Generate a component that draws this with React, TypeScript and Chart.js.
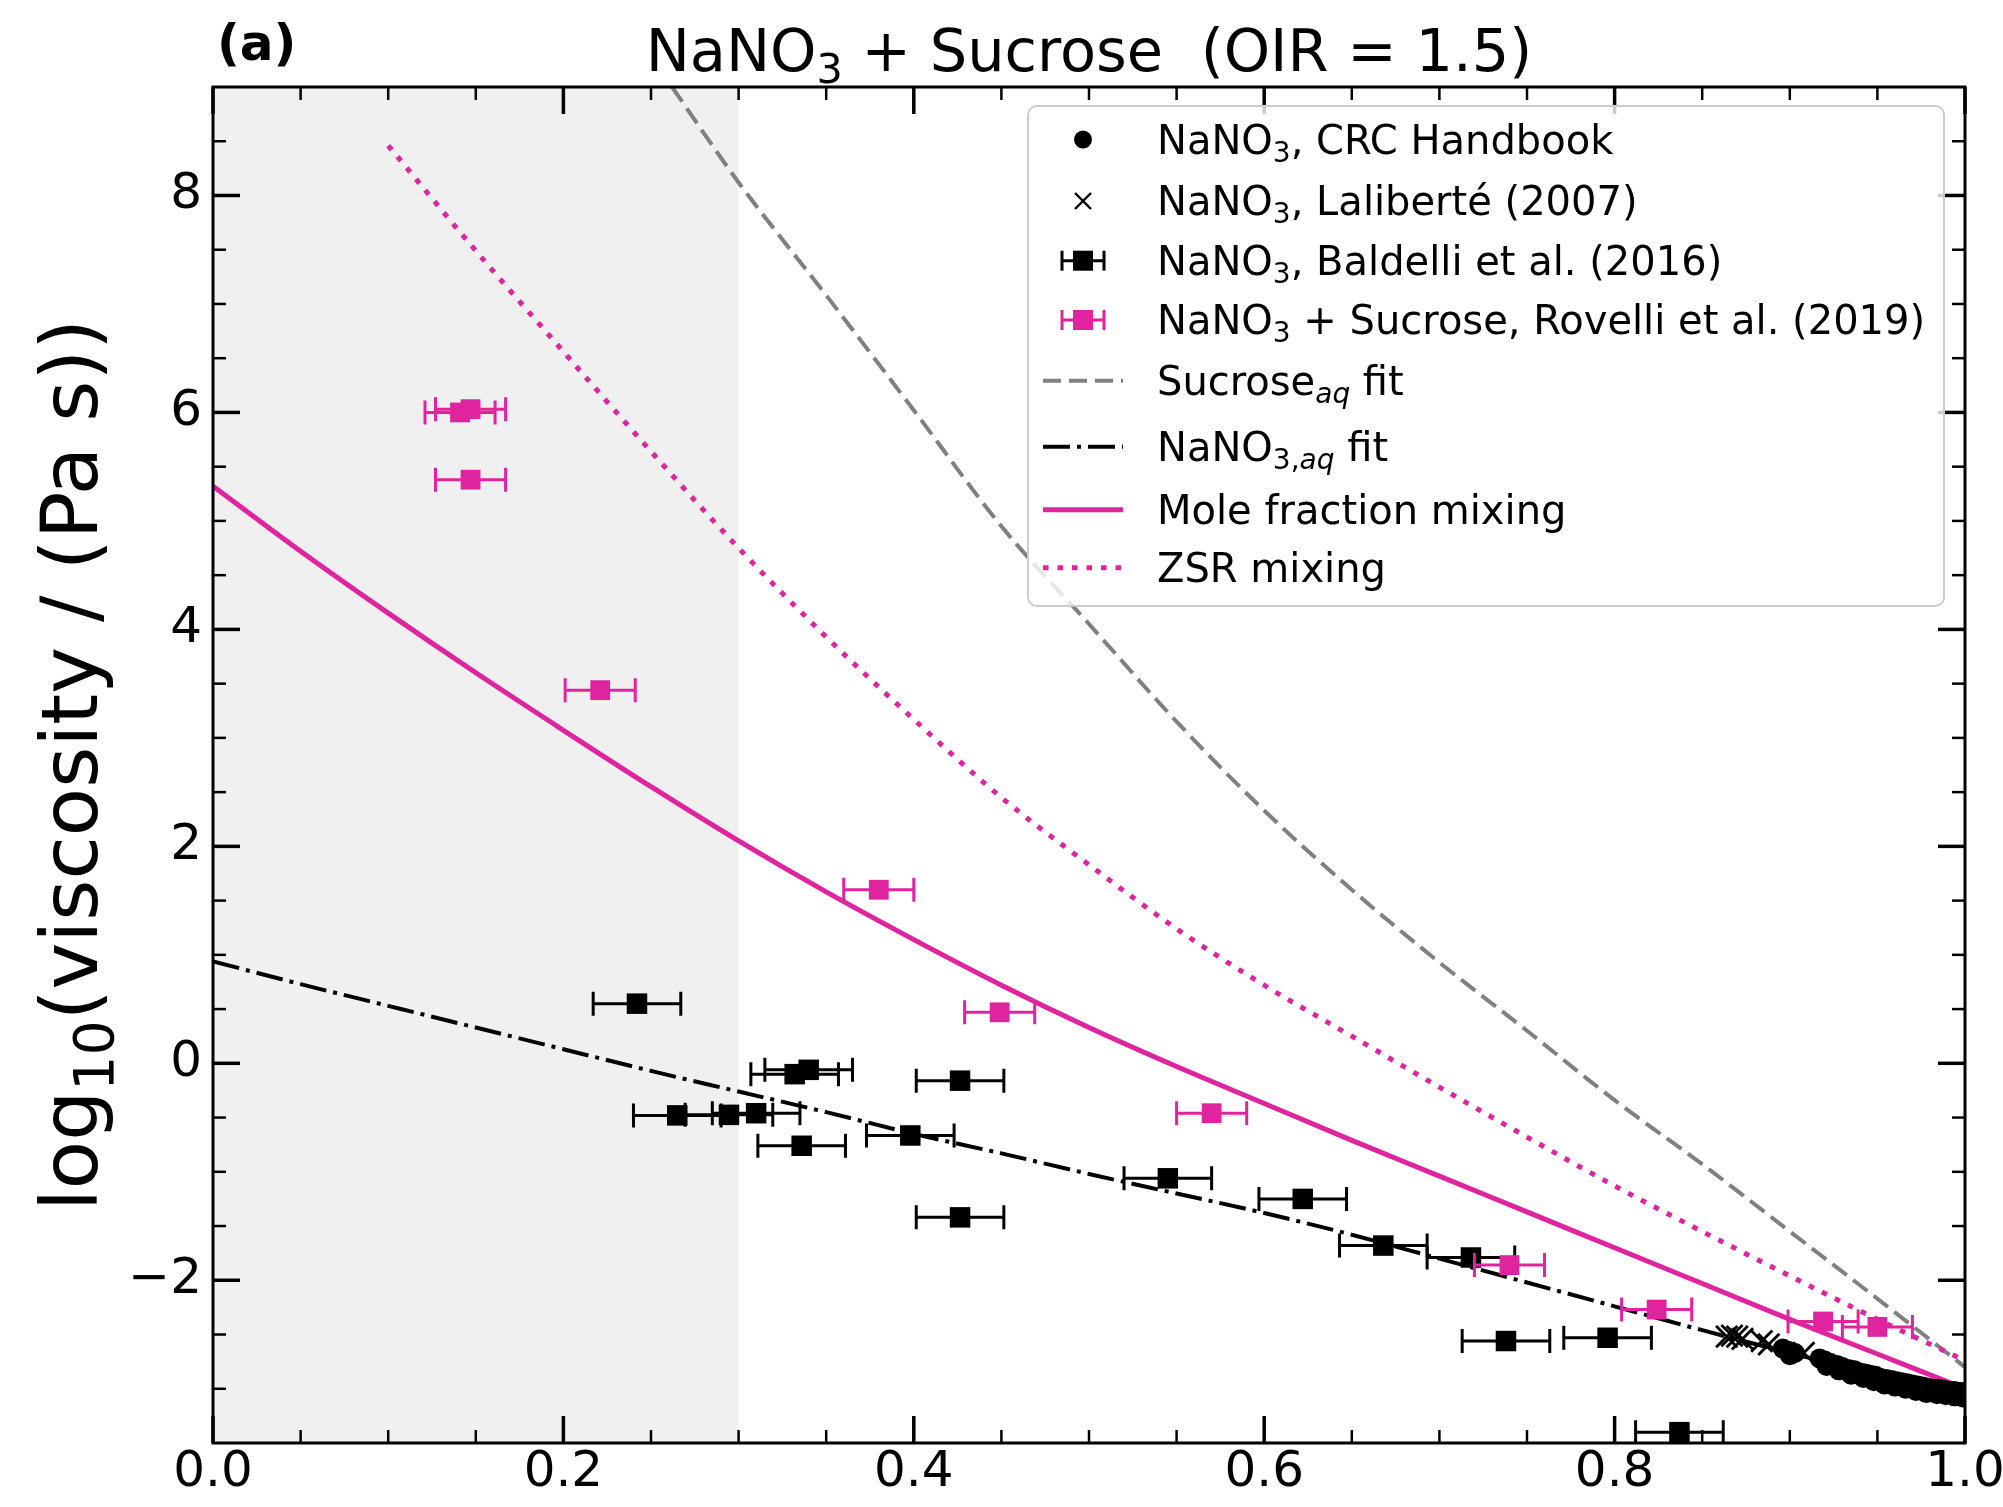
import React, { useEffect, useRef } from 'react';
import { Chart, registerables } from 'chart.js';

Chart.register(...registerables);

// ---------------- data ----------------
const shadeRange = [0, 0.3];

const xTickVals = [0, 0.2, 0.4, 0.6, 0.8, 1.0];
const xMinorVals = [0.05, 0.1, 0.15, 0.25, 0.3, 0.35, 0.45, 0.5, 0.55, 0.65, 0.7, 0.75, 0.85, 0.9, 0.95];
const yTickVals = [-2, 0, 2, 4, 6, 8];
const yMinorVals = [-3, -2.5, -1.5, -1, -0.5, 0.5, 1, 1.5, 2.5, 3, 3.5, 4.5, 5, 5.5, 6.5, 7, 7.5, 8.5];

// NaNO3, CRC Handbook
const crcX = [0.896, 0.899, 0.903, 0.917, 0.920, 0.923, 0.927, 0.930, 0.934, 0.937, 0.940, 0.943, 0.946, 0.949, 0.952, 0.955, 0.958, 0.961, 0.964, 0.967, 0.970, 0.973, 0.976, 0.979, 0.982, 0.985, 0.988, 0.991, 0.994, 0.997, 1.000,
  0.900, 0.921, 0.928, 0.935, 0.942, 0.948, 0.954, 0.960, 0.966, 0.972, 0.978, 0.984, 0.989, 0.994, 0.999];
const crcY = [-2.63, -2.65, -2.67, -2.72, -2.74, -2.76, -2.78, -2.80, -2.82, -2.83, -2.85, -2.86, -2.87, -2.88, -2.90, -2.91, -2.92, -2.93, -2.94, -2.95, -2.96, -2.97, -2.98, -2.99, -3.00, -3.00, -3.01, -3.02, -3.02, -3.03, -3.03,
  -2.69, -2.79, -2.83, -2.87, -2.90, -2.93, -2.96, -2.98, -3.00, -3.02, -3.04, -3.05, -3.06, -3.07, -3.08];

// NaNO3, Laliberté (2007)
const lalX = [0.864, 0.867, 0.870, 0.873, 0.884, 0.888, 0.908];
const lalY = [-2.52, -2.51, -2.52, -2.54, -2.56, -2.59, -2.67];

// NaNO3, Baldelli et al. (2016)
const balX = [0.242, 0.265, 0.2945, 0.310, 0.332, 0.340, 0.336, 0.398, 0.4264, 0.4264, 0.545, 0.622, 0.668, 0.718, 0.738, 0.796, 0.837];
const balY = [0.55, -0.48, -0.475, -0.46, -0.10, -0.06, -0.76, -0.665, -0.16, -1.42, -1.06, -1.25, -1.68, -1.79, -2.56, -2.53, -3.40];
const balXErr = [0.025, 0.025, 0.025, 0.025, 0.025, 0.025, 0.025, 0.025, 0.025, 0.025, 0.025, 0.025, 0.025, 0.025, 0.025, 0.025, 0.025];

// NaNO3 + Sucrose, Rovelli et al. (2019)
const rovX = [0.141, 0.147, 0.147, 0.221, 0.380, 0.449, 0.570, 0.740, 0.824, 0.919, 0.950];
const rovY = [6.00, 6.03, 5.38, 3.44, 1.60, 0.47, -0.46, -1.86, -2.27, -2.38, -2.43];
const rovXErr = [0.02, 0.02, 0.02, 0.02, 0.02, 0.02, 0.02, 0.02, 0.02, 0.02, 0.02];

// Sucrose_aq fit
const sucX = [0.262, 0.30, 0.35, 0.40, 0.45, 0.50, 0.55, 0.60, 0.65, 0.70, 0.75, 0.80, 0.85, 0.90, 0.95, 1.00];
const sucY = [9.0, 8.12, 7.08, 6.02, 4.95, 4.05, 3.15, 2.33, 1.60, 0.93, 0.30, -0.34, -0.93, -1.55, -2.17, -2.80];

// NaNO3,aq fit
const nanX = [0, 0.05, 0.10, 0.15, 0.20, 0.25, 0.30, 0.35, 0.40, 0.45, 0.50, 0.55, 0.60, 0.65, 0.70, 0.75, 0.80, 0.85, 0.90, 0.95, 1.00];
const nanY = [0.94, 0.73, 0.53, 0.33, 0.13, -0.07, -0.26, -0.45, -0.65, -0.83, -1.02, -1.20, -1.38, -1.58, -1.80, -2.02, -2.24, -2.46, -2.67, -2.87, -3.05];

// Mole fraction mixing
const molX = [0, 0.05, 0.10, 0.15, 0.20, 0.25, 0.30, 0.35, 0.40, 0.45, 0.50, 0.55, 0.60, 0.65, 0.70, 0.75, 0.80, 0.85, 0.90, 0.95, 1.00];
const molY = [5.32, 4.72, 4.15, 3.60, 3.07, 2.55, 2.05, 1.58, 1.14, 0.72, 0.33, -0.03, -0.37, -0.71, -1.04, -1.37, -1.70, -2.03, -2.36, -2.68, -3.00];

// ZSR mixing
const zsrX = [0.10, 0.15, 0.20, 0.25, 0.30, 0.35, 0.40, 0.45, 0.50, 0.55, 0.60, 0.65, 0.70, 0.75, 0.80, 0.85, 0.90, 0.95, 1.00];
const zsrY = [8.46, 7.49, 6.56, 5.64, 4.75, 3.93, 3.17, 2.45, 1.83, 1.24, 0.72, 0.25, -0.22, -0.68, -1.13, -1.55, -1.96, -2.36, -2.74];

// ---------------- styles ----------------
const FONT = '"DejaVu Sans", "Noto Sans", sans-serif';
const MAGENTA = '#e0249f';
const GRAY = '#808080';
const DASH_GRAY = [18, 8];
const DASH_DOT = [27, 7, 4, 7];
const DOTS = [5.5, 9];

type Seg = { t: string; sub?: boolean; italic?: boolean; bold?: boolean };

const pts = (xs: number[], ys: number[]) => xs.map((x, i) => ({ x, y: ys[i] }));

function segFont(s: Seg, size: number) {
  const px = s.sub ? size * 0.7 : size;
  return `${s.italic ? 'italic ' : ''}${s.bold ? 'bold ' : ''}${px}px ${FONT}`;
}
function richWidth(ctx: CanvasRenderingContext2D, segs: Seg[], size: number) {
  let w = 0;
  segs.forEach((s) => {
    ctx.font = segFont(s, size);
    w += ctx.measureText(s.t).width;
  });
  return w;
}
function drawRich(ctx: CanvasRenderingContext2D, segs: Seg[], x: number, y: number, size: number) {
  let cx = x;
  ctx.textBaseline = 'alphabetic';
  ctx.textAlign = 'left';
  segs.forEach((s) => {
    ctx.font = segFont(s, size);
    ctx.fillText(s.t, cx, y + (s.sub ? size * 0.2 : 0));
    cx += ctx.measureText(s.t).width;
  });
}

const titleSegs: Seg[] = [{ t: 'NaNO' }, { t: '3', sub: true }, { t: ' + Sucrose  (OIR = 1.5)' }];
const ylabelSegs: Seg[] = [{ t: 'log' }, { t: '10', sub: true }, { t: '(viscosity / (Pa s))' }];

type LegendItem = { segs: Seg[]; kind: string; color: string; dash?: number[]; width?: number };
const legendItems: LegendItem[] = [
  { segs: [{ t: 'NaNO' }, { t: '3', sub: true }, { t: ', CRC Handbook' }], kind: 'circle', color: '#000' },
  { segs: [{ t: 'NaNO' }, { t: '3', sub: true }, { t: ', Laliberté (2007)' }], kind: 'cross', color: '#000' },
  { segs: [{ t: 'NaNO' }, { t: '3', sub: true }, { t: ', Baldelli et al. (2016)' }], kind: 'errsq', color: '#000' },
  { segs: [{ t: 'NaNO' }, { t: '3', sub: true }, { t: ' + Sucrose, Rovelli et al. (2019)' }], kind: 'errsq', color: MAGENTA },
  { segs: [{ t: 'Sucrose' }, { t: 'aq', sub: true, italic: true }, { t: ' fit' }], kind: 'line', color: GRAY, dash: DASH_GRAY, width: 4 },
  { segs: [{ t: 'NaNO' }, { t: '3,', sub: true }, { t: 'aq', sub: true, italic: true }, { t: ' fit' }], kind: 'line', color: '#000', dash: DASH_DOT, width: 4 },
  { segs: [{ t: 'Mole fraction mixing' }], kind: 'line', color: MAGENTA, dash: [], width: 5 },
  { segs: [{ t: 'ZSR mixing' }], kind: 'line', color: MAGENTA, dash: DOTS, width: 5 },
];
const legendRowY = [139.6, 201, 260.7, 320, 380.7, 446.7, 509.8, 567.7];

// ---------------- plugins ----------------
const shadePlugin = {
  id: 'shade',
  beforeDatasetsDraw(chart: any) {
    const { ctx, chartArea, scales } = chart;
    const x0 = scales.x.getPixelForValue(shadeRange[0]);
    const x1 = scales.x.getPixelForValue(shadeRange[1]);
    ctx.save();
    ctx.fillStyle = '#f0f0f0';
    ctx.fillRect(x0, chartArea.top, x1 - x0, chartArea.bottom - chartArea.top);
    ctx.restore();
  },
};

const errorBarPlugin = {
  id: 'errbars',
  beforeDatasetDraw(chart: any, args: any) {
    const ds = chart.data.datasets[args.index];
    if (!ds.xErr) return;
    const { ctx, chartArea, scales } = chart;
    ctx.save();
    ctx.beginPath();
    ctx.rect(chartArea.left, chartArea.top, chartArea.right - chartArea.left, chartArea.bottom - chartArea.top);
    ctx.clip();
    ctx.strokeStyle = ds.backgroundColor;
    ctx.lineWidth = 3;
    ds.data.forEach((p: any, i: number) => {
      const el = args.meta.data[i];
      const py = el.y;
      const l = scales.x.getPixelForValue(p.x - ds.xErr[i]);
      const r = scales.x.getPixelForValue(p.x + ds.xErr[i]);
      ctx.beginPath();
      ctx.moveTo(l, py);
      ctx.lineTo(r, py);
      ctx.moveTo(l, py - 12);
      ctx.lineTo(l, py + 12);
      ctx.moveTo(r, py - 12);
      ctx.lineTo(r, py + 12);
      ctx.stroke();
    });
    ctx.restore();
  },
};

const decorPlugin = {
  id: 'decor',
  afterDraw(chart: any) {
    const { ctx, chartArea, scales } = chart;
    const { left, right, top, bottom } = chartArea;
    ctx.save();
    ctx.strokeStyle = '#000';
    const line = (x0: number, y0: number, x1: number, y1: number) => {
      ctx.beginPath();
      ctx.moveTo(x0, y0);
      ctx.lineTo(x1, y1);
      ctx.stroke();
    };
    ctx.lineWidth = 3.5;
    xTickVals.forEach((v) => {
      const px = scales.x.getPixelForValue(v);
      line(px, bottom, px, bottom - 27);
      line(px, top, px, top + 27);
    });
    yTickVals.forEach((v) => {
      const py = scales.y.getPixelForValue(v);
      line(left, py, left + 27, py);
      line(right, py, right - 27, py);
    });
    ctx.lineWidth = 2.5;
    xMinorVals.forEach((v) => {
      const px = scales.x.getPixelForValue(v);
      line(px, bottom, px, bottom - 13);
      line(px, top, px, top + 13);
    });
    yMinorVals.forEach((v) => {
      const py = scales.y.getPixelForValue(v);
      line(left, py, left + 13, py);
      line(right, py, right - 13, py);
    });
    ctx.lineWidth = 3;
    ctx.strokeRect(left, top, right - left, bottom - top);

    // legend
    const bx = 1028, by = 106, bw = 916, bh = 500;
    ctx.beginPath();
    (ctx as any).roundRect(bx, by, bw, bh, 9);
    ctx.fillStyle = 'rgba(255,255,255,0.8)';
    ctx.fill();
    ctx.strokeStyle = '#cccccc';
    ctx.lineWidth = 2;
    ctx.stroke();

    const hx = 1083;
    legendItems.forEach((it, i) => {
      const cy = legendRowY[i];
      ctx.save();
      ctx.fillStyle = it.color;
      ctx.strokeStyle = it.color;
      if (it.kind === 'circle') {
        ctx.beginPath();
        ctx.arc(hx, cy, 9, 0, Math.PI * 2);
        ctx.fill();
      } else if (it.kind === 'cross') {
        ctx.lineWidth = 2.4;
        line(hx - 8, cy - 8, hx + 8, cy + 8);
        line(hx - 8, cy + 8, hx + 8, cy - 8);
      } else if (it.kind === 'errsq') {
        ctx.lineWidth = 3;
        line(hx - 21, cy, hx + 21, cy);
        line(hx - 21, cy - 10, hx - 21, cy + 10);
        line(hx + 21, cy - 10, hx + 21, cy + 10);
        ctx.fillRect(hx - 10, cy - 10, 20, 20);
      } else {
        ctx.lineWidth = it.width || 4;
        ctx.setLineDash(it.dash || []);
        ctx.lineCap = 'butt';
        line(hx - 40, cy, hx + 40, cy);
      }
      ctx.restore();
      ctx.fillStyle = '#000';
      drawRich(ctx, it.segs, 1157, cy + 14, 40);
    });

    // title
    ctx.fillStyle = '#000';
    const tw = richWidth(ctx, titleSegs, 59);
    drawRich(ctx, titleSegs, (left + right) / 2 - tw / 2, 71, 59);
    drawRich(ctx, [{ t: '(a)', bold: true }], 217, 60, 50);

    // y label
    ctx.save();
    ctx.translate(97, (top + bottom) / 2);
    ctx.rotate(-Math.PI / 2);
    const yw = richWidth(ctx, ylabelSegs, 79);
    drawRich(ctx, ylabelSegs, -yw / 2, 0, 79);
    ctx.restore();

    ctx.restore();
  },
};

// ---------------- component ----------------
export default function App() {
  const ref = useRef<HTMLCanvasElement>(null);

  useEffect(() => {
    document.body.style.margin = '0';
    const canvas = ref.current!;
    const tickFont = { family: FONT, size: 50 };

    const chart = new Chart(canvas, {
      type: 'scatter',
      data: {
        datasets: [
          {
            label: 'Sucrose_aq fit',
            data: pts(sucX, sucY),
            showLine: true,
            borderColor: GRAY,
            borderWidth: 4,
            borderDash: DASH_GRAY,
            pointRadius: 0,
            cubicInterpolationMode: 'monotone',
            order: 10,
          },
          {
            label: 'ZSR mixing',
            data: pts(zsrX, zsrY),
            showLine: true,
            borderColor: MAGENTA,
            borderWidth: 5,
            borderDash: DOTS,
            pointRadius: 0,
            cubicInterpolationMode: 'monotone',
            order: 9,
          },
          {
            label: 'Mole fraction mixing',
            data: pts(molX, molY),
            showLine: true,
            borderColor: MAGENTA,
            borderWidth: 5,
            pointRadius: 0,
            cubicInterpolationMode: 'monotone',
            order: 8,
          },
          {
            label: 'NaNO3,aq fit',
            data: pts(nanX, nanY),
            showLine: true,
            borderColor: '#000',
            borderWidth: 4,
            borderDash: DASH_DOT,
            pointRadius: 0,
            cubicInterpolationMode: 'monotone',
            order: 7,
          },
          {
            label: 'Baldelli',
            data: pts(balX, balY),
            xErr: balXErr,
            pointStyle: 'rect',
            pointRadius: 14.5,
            pointBorderWidth: 0,
            backgroundColor: '#000',
            borderColor: '#000',
            order: 4,
          } as any,
          {
            label: 'Rovelli',
            data: pts(rovX, rovY),
            xErr: rovXErr,
            pointStyle: 'rect',
            pointRadius: 14,
            pointBorderWidth: 0,
            backgroundColor: MAGENTA,
            borderColor: MAGENTA,
            order: 3,
          } as any,
          {
            label: 'Laliberte',
            data: pts(lalX, lalY),
            pointStyle: 'crossRot',
            pointRadius: 15,
            pointBorderWidth: 2.8,
            borderColor: '#000',
            backgroundColor: '#000',
            order: 2,
          },
          {
            label: 'CRC',
            data: pts(crcX, crcY),
            pointStyle: 'circle',
            pointRadius: 10,
            pointBorderWidth: 0,
            backgroundColor: '#000',
            borderColor: '#000',
            order: 1,
          },
        ],
      },
      options: {
        responsive: false,
        animation: false,
        devicePixelRatio: 1,
        events: [],
        layout: { padding: { top: 87, right: 38, left: 0, bottom: 0 } },
        plugins: {
          legend: { display: false },
          title: { display: false },
          tooltip: { enabled: false },
        },
        scales: {
          x: {
            type: 'linear',
            min: 0,
            max: 1,
            grid: { display: false, drawTicks: false },
            border: { display: false },
            ticks: {
              font: tickFont,
              color: '#000',
              padding: 0,
              maxRotation: 0,
              autoSkip: false,
              callback: (v: any) => Number(v).toFixed(1),
            },
            afterBuildTicks: (s: any) => {
              s.ticks = xTickVals.map((v) => ({ value: v }));
            },
            afterFit: (s: any) => {
              s.height = 64;
              s.paddingLeft = 0;
              s.paddingRight = 0;
              s.paddingTop = 0;
              s.paddingBottom = 0;
            },
          },
          y: {
            type: 'linear',
            min: -3.5,
            max: 9,
            grid: { display: false, drawTicks: false },
            border: { display: false },
            ticks: {
              font: tickFont,
              color: '#000',
              padding: 11,
              autoSkip: false,
              callback: (v: any) => (Number(v) < 0 ? '\u2212' + Math.abs(Number(v)) : String(v)),
            },
            afterBuildTicks: (s: any) => {
              s.ticks = yTickVals.map((v) => ({ value: v }));
            },
            afterFit: (s: any) => {
              s.width = 213;
              s.paddingLeft = 0;
              s.paddingRight = 0;
              s.paddingTop = 0;
              s.paddingBottom = 0;
            },
          },
        },
      } as any,
      plugins: [shadePlugin, errorBarPlugin, decorPlugin],
    });

    return () => chart.destroy();
  }, []);

  return (
    <canvas
      ref={ref}
      width={2003}
      height={1507}
      style={{ display: 'block', width: '2003px', height: '1507px' }}
    />
  );
}
